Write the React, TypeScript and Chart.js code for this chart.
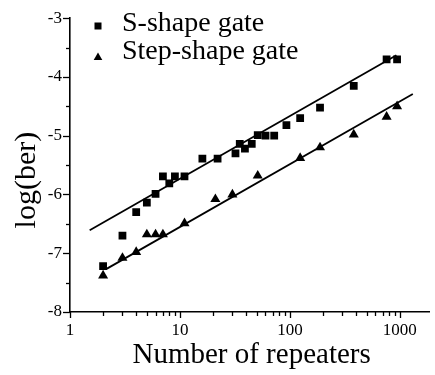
import React, { useEffect, useRef } from "react";
import { Chart, registerables } from "chart.js";

Chart.register(...registerables);

const sRepeaters = [2, 3, 4, 5, 6, 7, 8, 9, 11, 16, 22, 32, 35, 39, 45, 51, 60, 72, 93, 124, 188, 381, 758, 944];
const sLogBer = [-7.22, -6.7, -6.3, -6.14, -5.99, -5.69, -5.81, -5.69, -5.69, -5.39, -5.39, -5.3, -5.14, -5.22, -5.14, -4.99, -5.0, -5.0, -4.82, -4.7, -4.52, -4.15, -3.7, -3.7];

const stepRepeaters = [2, 3, 4, 5, 6, 7, 11, 21, 30, 51, 124, 188, 381, 758, 944];
const stepLogBer = [-7.38, -7.08, -6.98, -6.68, -6.68, -6.68, -6.49, -6.08, -6.0, -5.68, -5.38, -5.2, -4.98, -4.68, -4.5];

const sFitX = [1.51, 931];
const sFitY = [-6.61, -3.63];
const stepFitX = [2.13, 1313];
const stepFitY = [-7.27, -4.29];

const seriesNames = ["S-shape gate", "Step-shape gate"];
const xTitle = "Number of repeaters";
const yTitle = "log(ber)";
const xMajorTicks = [1, 10, 100, 1000];
const xMinorMultipliers = [2, 3, 4, 5, 6, 7, 8, 9];

const FONT = "'Liberation Serif', 'Times New Roman', serif";

export default function App() {
  const ref = useRef<HTMLCanvasElement | null>(null);

  useEffect(() => {
    const canvas = ref.current;
    if (!canvas) return;

    const xTickValues: number[] = [];
    xMajorTicks.forEach((m, i) => {
      xTickValues.push(m);
      if (i < xMajorTicks.length - 1) xMinorMultipliers.forEach((k) => xTickValues.push(m * k));
    });

    const decorPlugin = {
      id: "decor",
      afterDraw(chart: any) {
        const ctx = chart.ctx;
        const area = chart.chartArea;
        const xs = chart.scales.x;
        const ys = chart.scales.y;
        ctx.save();
        ctx.strokeStyle = "#000";
        ctx.lineWidth = 1.3;
        // x tick marks
        xTickValues.forEach((v) => {
          const px = Math.round(xs.getPixelForValue(v)) + 0.5;
          const major = xMajorTicks.includes(v);
          ctx.beginPath();
          ctx.moveTo(px, area.bottom);
          ctx.lineTo(px, area.bottom + (major ? 6 : 4));
          ctx.stroke();
        });
        // y tick marks
        for (let v = -8; v <= -3 + 1e-9; v += 0.5) {
          const py = Math.round(ys.getPixelForValue(v)) + 0.5;
          const major = Math.abs(v - Math.round(v)) < 1e-6;
          ctx.beginPath();
          ctx.moveTo(area.left, py);
          ctx.lineTo(area.left - (major ? 7 : 4), py);
          ctx.stroke();
        }
        // axis titles
        ctx.fillStyle = "#000";
        ctx.font = `29px ${FONT}`;
        ctx.textAlign = "center";
        ctx.textBaseline = "alphabetic";
        ctx.fillText(xTitle, (area.left + area.right) / 2 + 2, 363);
        ctx.save();
        ctx.translate(35, (area.top + area.bottom) / 2 + 15);
        ctx.rotate(-Math.PI / 2);
        ctx.font = `30px ${FONT}`;
        ctx.fillText(yTitle, 0, 0);
        ctx.restore();
        // legend
        ctx.textAlign = "left";
        ctx.font = `28px ${FONT}`;
        // square
        ctx.fillRect(98 - 3.5, 26 - 3.5, 7, 7);
        ctx.fillText(seriesNames[0], 122, 31);
        // triangle
        ctx.beginPath();
        ctx.moveTo(98, 57 - 4.5);
        ctx.lineTo(98 + 4.3, 57 + 3);
        ctx.lineTo(98 - 4.3, 57 + 3);
        ctx.closePath();
        ctx.fill();
        ctx.fillText(seriesNames[1], 122, 59);
        ctx.restore();
      },
    };

    const chart = new Chart(canvas, {
      type: "scatter",
      data: {
        datasets: [
          {
            label: seriesNames[0],
            data: sRepeaters.map((x, i) => ({ x, y: sLogBer[i] })),
            pointStyle: "rect",
            pointRadius: 5.5,
            backgroundColor: "#000",
            borderColor: "#000",
            borderWidth: 0,
            showLine: false,
          },
          {
            label: seriesNames[1],
            data: stepRepeaters.map((x, i) => ({ x, y: stepLogBer[i] })),
            pointStyle: "triangle",
            pointRadius: 5.8,
            backgroundColor: "#000",
            borderColor: "#000",
            borderWidth: 0,
            showLine: false,
          },
          {
            label: "fitS",
            data: sFitX.map((x, i) => ({ x, y: sFitY[i] })),
            pointRadius: 0,
            borderColor: "#000",
            borderWidth: 1.8,
            showLine: true,
          },
          {
            label: "fitStep",
            data: stepFitX.map((x, i) => ({ x, y: stepFitY[i] })),
            pointRadius: 0,
            borderColor: "#000",
            borderWidth: 1.8,
            showLine: true,
          },
        ],
      },
      options: {
        responsive: false,
        animation: false,
        events: [],
        layout: { padding: { top: 12, right: 0, bottom: 0, left: 0 } },
        plugins: {
          legend: { display: false },
          tooltip: { enabled: false },
        },
        scales: {
          x: {
            type: "logarithmic",
            min: 1,
            max: 1850,
            afterBuildTicks: (scale: any) => {
              scale.ticks = xTickValues.map((v) => ({ value: v }));
            },
            afterFit: (scale: any) => {
              scale.height = 63;
            },
            ticks: {
              autoSkip: false,
              maxRotation: 0,
              padding: 8,
              color: "#000",
              font: { family: FONT, size: 17 },
              callback: (v: any) => (xMajorTicks.includes(Number(v)) ? String(v) : ""),
            },
            grid: { display: false, drawTicks: false },
            border: { display: true, color: "#000", width: 1.6 },
          },
          y: {
            type: "linear",
            min: -8,
            max: -3,
            afterFit: (scale: any) => {
              scale.width = 70;
            },
            ticks: {
              stepSize: 0.5,
              autoSkip: false,
              padding: 8,
              color: "#000",
              font: { family: FONT, size: 17 },
              callback: (v: any) => (Number.isInteger(Number(v)) ? String(v) : ""),
            },
            grid: { display: false, drawTicks: false },
            border: { display: true, color: "#000", width: 1.6 },
          },
        },
      },
      plugins: [decorPlugin],
    });

    return () => chart.destroy();
  }, []);

  return (
    <div style={{ position: "fixed", left: 0, top: 0, width: 435, height: 375, background: "#fff" }}>
      <canvas ref={ref} width={435} height={375} style={{ display: "block" }} />
    </div>
  );
}
